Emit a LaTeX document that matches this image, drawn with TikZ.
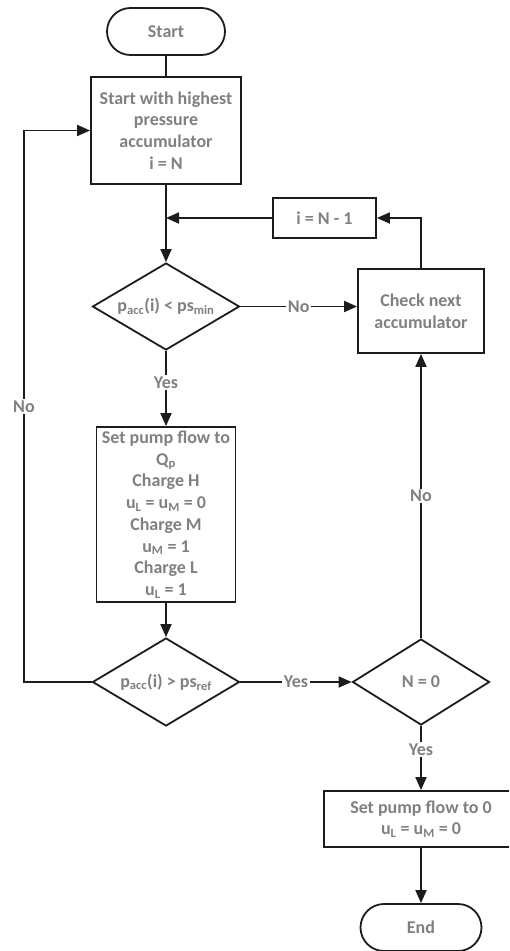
\documentclass[tikz,border=0pt]{standalone}
\usepackage{fontspec}
\setmainfont{Carlito}
\usetikzlibrary{shapes.geometric,arrows.meta}
\definecolor{txtgray}{RGB}{128,128,128}
\definecolor{linec}{RGB}{28,28,28}
\begin{document}
\begin{tikzpicture}[x=1pt,y=-1pt,
  base/.style={draw=linec, line width=1.8pt, text=txtgray,
    font=\fontsize{18}{21.7}\selectfont\bfseries, align=center, inner sep=0pt},
  procbox/.style={base, rectangle},
  term/.style={base, rectangle, rounded corners=23.5pt, minimum width=118pt, minimum height=47pt},
  decision/.style={base, diamond, aspect=1.7},
  flow/.style={draw=linec, line width=1.8pt, -{Triangle[length=13pt,width=11pt]}},
  plain/.style={draw=linec, line width=1.8pt},
  lbl/.style={fill=white, text=txtgray, font=\fontsize{18}{21.7}\selectfont\bfseries, inner sep=1.5pt}
]
\path[use as bounding box, clip] (0,0) rectangle (509,951);

\node[term] (start) at (166,31.5) {Start};
\node[procbox, minimum width=150pt, minimum height=107pt] (box1) at (166,130.5)
  {Start with highest\\pressure\\accumulator\\i = N};
\node[decision, minimum width=147pt, minimum height=87pt] (d1) at (166,306.5)
  {p\textsubscript{acc}(i) < ps\textsubscript{min}};
\node[procbox, minimum width=126pt, minimum height=84pt] (check) at (421,311)
  {Check next\\accumulator};
\node[procbox, minimum width=103pt, minimum height=40pt] (inm1) at (324.5,218) {i = N - 1};
\node[procbox, minimum width=139pt, minimum height=175pt] (pump) at (166,514.5)
  {Set pump flow to\\Q\textsubscript{p}\\Charge H\\u\textsubscript{L} = u\textsubscript{M} = 0\\Charge M\\u\textsubscript{M} = 1\\Charge L\\u\textsubscript{L} = 1};
\node[decision, minimum width=147pt, minimum height=88pt] (d2) at (166,682)
  {p\textsubscript{acc}(i) > ps\textsubscript{ref}};
\node[decision, minimum width=137pt, minimum height=86pt] (d3) at (421,682) {N = 0};
\node[procbox, minimum width=194pt, minimum height=56pt] (fin) at (421,819)
  {Set pump flow to 0\\u\textsubscript{L} = u\textsubscript{M} = 0};
\node[term, minimum width=121pt] (end) at (421,927.5) {End};

\coordinate (loopc) at (24,682);

\draw[plain] (start) -- (box1);
\draw[flow] (box1) -- (d1);
\draw[flow] (inm1.west) -- (inm1.west -| box1.south);
\draw[flow] (check.north) |- (inm1.east);
\draw[flow] (d1.east) -- node[lbl]{No} (d1.east -| check.west);
\draw[flow] (d1.south) -- node[lbl, pos=0.42]{Yes} (pump.north);
\draw[flow] (pump.south) -- (d2.north);
\draw[flow] (d2.east) -- node[lbl]{Yes} (d3.west);
\draw[flow] (d2.west) -- (loopc) |- node[lbl, pos=0.25]{No} (box1.west);
\draw[flow] (d3.north) -- node[lbl]{No} (check.south);
\draw[flow] (d3.south) -- node[lbl, pos=0.37]{Yes} (fin.north);
\draw[flow] (fin.south) -- (end.north);
\end{tikzpicture}
\end{document}
